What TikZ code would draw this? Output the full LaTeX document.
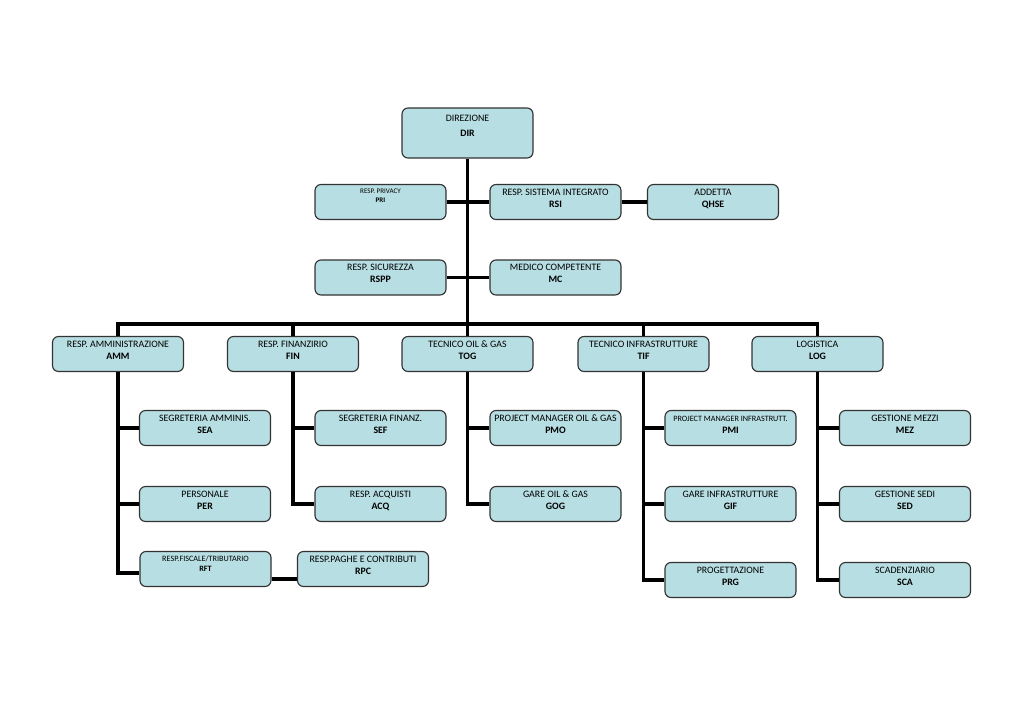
\documentclass[tikz,border=0pt]{standalone}
\usepackage{fontspec}
\setmainfont{Carlito}
\usetikzlibrary{calc}
\definecolor{UnitFill}{RGB}{183,222,226}
\colorlet{UnitBorder}{black!80}
\colorlet{LinkColor}{black}
\newcommand{\unitfont}{\fontsize{7}{8.5}\selectfont}
\newcommand{\smallunitfont}{\fontsize{5.8}{7}\selectfont}
\tikzset{
    unitbox/.style={draw=UnitBorder, fill=UnitFill, line width=0.8pt,
        rounded corners=0.15cm, minimum width=131*0.025cm,
        minimum height=35*0.025cm, inner sep=0pt},
    unittext/.style={anchor=base, inner sep=0pt},
    link/.style={draw=LinkColor, line width=2.4pt}
}
% box with a title line and a bold code line
\newcommand{\orgunit}[6][\unitfont]{%
    \node[unitbox] (#2) at (#3,#4) {};
    \node[unittext, font=#1] (#2-title) at ($(#2.north)+(0,11.5)$) {#5};
    \node[unittext, font=\unitfont\bfseries] (#2-code) at ($(#2.north)+(0,23.5)$) {#6};
}

\begin{document}
\begin{tikzpicture}[x=0.025cm, y=-0.025cm]
    \useasboundingbox (0,0) rectangle (1024,724);

    % Direzione
    \node[unitbox, minimum height=50*0.025cm] (DIR) at (467.5,133) {};
    \node[unittext, font=\unitfont] (DIR-title) at ($(DIR.north)+(0,14)$) {DIREZIONE};
    \node[unittext, font=\unitfont\bfseries] (DIR-code) at ($(DIR.north)+(0,29)$) {DIR};

    % Staff
    \node[unitbox] (PRI) at (380.5,202) {};
    \node[unittext, font=\fontsize{5}{6}\selectfont] (PRI-title) at ($(PRI.north)+(0,10)$) {RESP. PRIVACY};
    \node[unittext, font=\fontsize{5}{6}\selectfont\bfseries] (PRI-code) at ($(PRI.north)+(0,18.5)$) {PRI};
    \orgunit{RSI}{555.5}{202}{RESP. SISTEMA INTEGRATO}{RSI}
    \orgunit{QHSE}{713}{202}{ADDETTA}{QHSE}
    \orgunit{RSPP}{380.5}{277.5}{RESP. SICUREZZA}{RSPP}
    \orgunit{MC}{555.5}{277.5}{MEDICO COMPETENTE}{MC}

    % Aree
    \orgunit{AMM}{118}{354}{RESP. AMMINISTRAZIONE}{AMM}
    \orgunit{FIN}{293}{354}{RESP. FINANZIRIO}{FIN}
    \orgunit{TOG}{467.5}{354}{TECNICO OIL \& GAS}{TOG}
    \orgunit{TIF}{643.5}{354}{TECNICO INFRASTRUTTURE}{TIF}
    \orgunit{LOG}{817.5}{354}{LOGISTICA}{LOG}

    % Uffici
    \orgunit{SEA}{205}{428}{SEGRETERIA AMMINIS.}{SEA}
    \orgunit{PER}{205}{504}{PERSONALE}{PER}
    \node[unitbox] (RFT) at (205.5,569) {};
    \node[unittext, font=\smallunitfont] (RFT-title) at ($(RFT.north)+(0,11)$) {RESP.FISCALE/TRIBUTARIO};
    \node[unittext, font=\smallunitfont\bfseries] (RFT-code) at ($(RFT.north)+(0,21)$) {RFT};
    \orgunit{RPC}{363}{569}{RESP.PAGHE E CONTRIBUTI}{RPC}
    \orgunit{SEF}{380.5}{428}{SEGRETERIA FINANZ.}{SEF}
    \orgunit{ACQ}{380.5}{504}{RESP. ACQUISTI}{ACQ}
    \orgunit{PMO}{555.5}{428}{PROJECT MANAGER OIL \& GAS}{PMO}
    \orgunit{GOG}{555.5}{504}{GARE OIL \& GAS}{GOG}
    \orgunit[\smallunitfont]{PMI}{730.5}{428}{PROJECT MANAGER INFRASTRUTT.}{PMI}
    \orgunit{GIF}{730.5}{504}{GARE INFRASTRUTTURE}{GIF}
    \orgunit{PRG}{730.5}{580}{PROGETTAZIONE}{PRG}
    \orgunit{MEZ}{905}{428}{GESTIONE MEZZI}{MEZ}
    \orgunit{SED}{905}{504}{GESTIONE SEDI}{SED}
    \orgunit{SCA}{905}{580}{SCADENZIARIO}{SCA}

    % Collegamenti
    \coordinate (bus) at (467.5,324);
    \draw[link] (DIR.south) -- (TOG.north);
    \draw[link] (PRI.east) -- (RSI.west);
    \draw[link] (RSI.east) -- (QHSE.west);
    \draw[link] (RSPP.east) -- (MC.west);
    \draw[link] (AMM.north) |- (bus) -| (LOG.north);
    \draw[link] (FIN.north) -- (FIN.north |- bus);
    \draw[link] (TIF.north) -- (TIF.north |- bus);

    \foreach \capo/\ufficio in {AMM/SEA, AMM/PER, FIN/SEF, FIN/ACQ, TOG/PMO, TOG/GOG,
        TIF/PMI, TIF/GIF, TIF/PRG, LOG/MEZ, LOG/SED, LOG/SCA}
        \draw[link] (\capo.south) |- (\ufficio.west);
    \draw[link] (AMM.south) |- ($(RFT.west)+(0,4)$);
    \draw[link] ($(RFT.east)+(0,10)$) -- ($(RPC.west)+(0,10)$);
\end{tikzpicture}
\end{document}
